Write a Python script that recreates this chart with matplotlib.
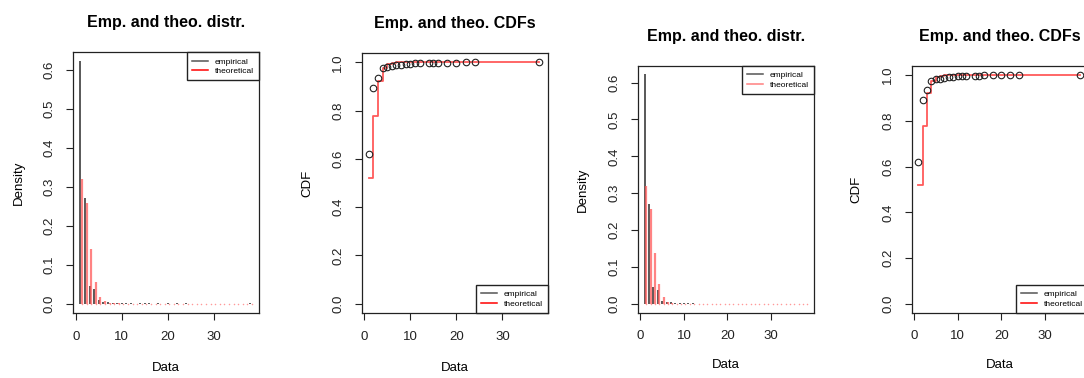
import matplotlib
matplotlib.use('Agg')
import matplotlib.pyplot as plt
from matplotlib.lines import Line2D
import numpy as np

plt.rcParams['font.family'] = ['Liberation Sans', 'DejaVu Sans']

# observed values with empirical density and cdf
emp_x = [1, 2, 3, 4, 5, 6, 7, 8, 9, 10, 11, 12, 14, 15, 16, 18, 20, 22, 24, 38]
emp_dens = [0.622, 0.270, 0.045, 0.038, 0.008, 0.005, 0.004, 0.002, 0.002, 0.001,
            0.001, 0.001, 0.0005, 0.0005, 0.0005, 0.0005, 0.0003, 0.0003, 0.0002, 0.0003]
emp_cdf = [0.622, 0.892, 0.937, 0.975, 0.981, 0.985, 0.989, 0.991, 0.993, 0.995,
           0.996, 0.997, 0.9975, 0.998, 0.9985, 0.999, 0.9993, 0.9996, 0.9998, 1.0]

# fitted distribution, evaluated on 1..38
theo_x = list(range(1, 39))
theo_dens = [0.320, 0.258, 0.139, 0.055, 0.018, 0.006, 0.002, 0.0007, 0.0002, 0.0001,
             0, 0, 0, 0, 0, 0, 0, 0, 0, 0,
             0, 0, 0, 0, 0, 0, 0, 0, 0, 0,
             0, 0, 0, 0, 0, 0, 0, 0]
theo_cdf = [0.520, 0.776, 0.921, 0.975, 0.993, 0.998, 0.9995, 0.9998, 1.0, 1.0,
            1.0, 1.0, 1.0, 1.0, 1.0, 1.0, 1.0, 1.0, 1.0, 1.0,
            1.0, 1.0, 1.0, 1.0, 1.0, 1.0, 1.0, 1.0, 1.0, 1.0,
            1.0, 1.0, 1.0, 1.0, 1.0, 1.0, 1.0, 1.0]

W, H = 1084, 378
fig = plt.figure(figsize=(W / 100, H / 100), dpi=100)

# panel boxes in pixels: left, top, right, bottom
panels = [
    dict(kind='dens', box=(73.3, 52.3, 259.3, 313.3), loc='upper right', labpad=14, red='red'),
    dict(kind='cdf', box=(361.7, 52.7, 548.3, 313.3), loc='lower right', labpad=14, red='red'),
    dict(kind='dens', box=(638, 66, 814.3, 313), loc='upper right', labpad=12, red='#ff8080'),
    dict(kind='cdf', box=(911.5, 66, 1088.5, 313), loc='lower right', labpad=12, red='red'),
]

for p in panels:
    l, t, r, b = p['box']
    ax = fig.add_axes([l / W, 1 - b / H, (r - l) / W, (b - t) / H])
    ax.set_xlim(-0.55, 39.95)
    tx = np.array(theo_x) + 0.35

    if p['kind'] == 'dens':
        ax.vlines(emp_x, 0, emp_dens, color='#3c3c3c', lw=1.2)
        ax.vlines(tx, 0, theo_dens, color='#ff5a5a', alpha=0.75, lw=1.6)
        ax.plot(tx, np.zeros(len(tx)), ls='none', marker='o', ms=1.1, mew=0, color='#ff9a9a')
        ax.set_ylim(-0.025, 0.645)
        yt = [0.0, 0.1, 0.2, 0.3, 0.4, 0.5, 0.6]
        ax.set_title('Emp. and theo. distr.', fontsize=11.5, fontweight='bold', pad=18)
        ax.set_ylabel('Density', fontsize=9.5, labelpad=14)
    else:
        ax.plot(theo_x, theo_cdf, drawstyle='steps-post', color='#ff5a5a', lw=1.3)
        ax.plot(emp_x, emp_cdf, ls='none', marker='o', ms=4.7, mfc='none', mec='#222222', mew=0.8)
        ax.set_ylim(-0.04, 1.04)
        yt = [0.0, 0.2, 0.4, 0.6, 0.8, 1.0]
        ax.set_title('Emp. and theo. CDFs', fontsize=11.5, fontweight='bold', pad=18)
        ax.set_ylabel('CDF', fontsize=9.5, labelpad=14)

    ax.set_xticks([0, 10, 20, 30])
    ax.set_xticklabels(['0', '10', '20', '30'], fontsize=9.5)
    ax.set_yticks(yt)
    ax.set_yticklabels([f'{v:.1f}' for v in yt], fontsize=9.5, rotation=90, va='center')
    ax.set_xlabel('Data', fontsize=9.5, labelpad=p['labpad'])
    ax.tick_params(direction='out', length=5, width=0.8, pad=7.5, colors='#222222')
    for s in ax.spines.values():
        s.set_linewidth(0.9)
        s.set_color('#222222')

    handles = [Line2D([], [], color='#555555', lw=1.1),
               Line2D([], [], color=p['red'], lw=1.1)]
    ax.legend(handles, ['empirical', 'theoretical'], loc=p['loc'], fontsize=6,
              borderaxespad=0, fancybox=False, edgecolor='#222222', framealpha=1,
              borderpad=0.65, handlelength=1.9, handletextpad=0.8, labelspacing=0.2)

fig.savefig('out.png', dpi=100)
